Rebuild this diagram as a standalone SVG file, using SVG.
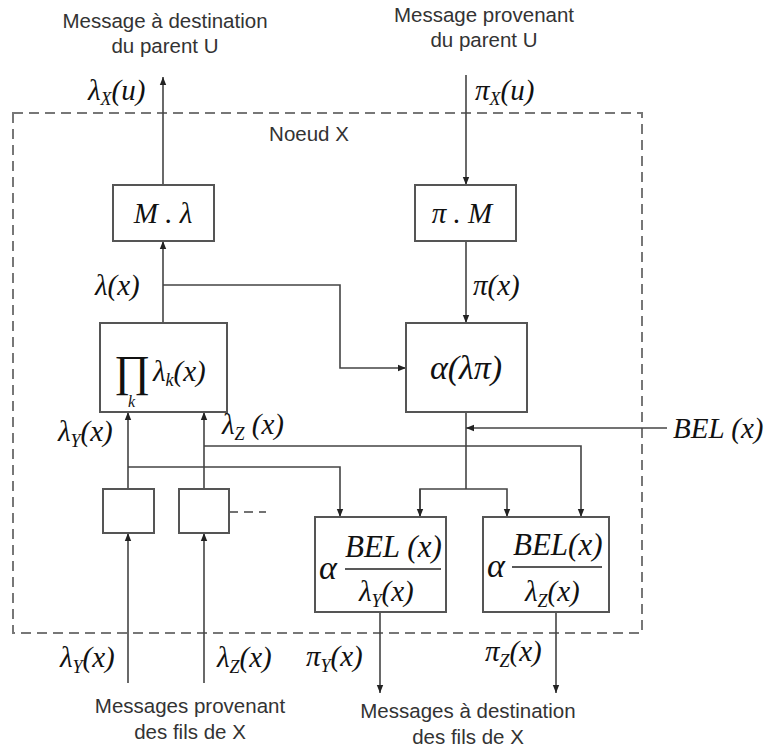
<svg xmlns="http://www.w3.org/2000/svg" width="764" height="751" viewBox="0 0 764 751">
<defs>
<style>
.lbl{font-family:"Liberation Sans",Arial,sans-serif;font-size:20.5px;fill:#333;text-anchor:middle}
.m{font-family:"Liberation Serif","Times New Roman",serif;font-style:italic;font-size:29px;fill:#111}
.ms{font-size:18px}
.big{font-size:34px}
.num{font-size:31px}
.box{fill:#fff;stroke:#555;stroke-width:2}
.ln{fill:none;stroke:#444;stroke-width:1.6}
.dash{fill:none;stroke:#777;stroke-width:2;stroke-dasharray:10 6}
</style>
<marker id="ah" viewBox="0 0 10 10" refX="10" refY="5" markerWidth="8" markerHeight="8" markerUnits="userSpaceOnUse" orient="auto"><path d="M0,1 L10,5 L0,9 Z" fill="#222"/></marker>
</defs>
<rect id="noeud" class="dash" x="13" y="113" width="629" height="520"/>
<text class="lbl" x="309" y="141">Noeud X</text>
<g id="labels">
<text class="lbl" x="165" y="28">Message à destination</text>
<text class="lbl" x="165" y="53">du parent U</text>
<text class="lbl" x="484" y="22">Message provenant</text>
<text class="lbl" x="484" y="47">du parent U</text>
<text class="lbl" x="190" y="713">Messages provenant</text>
<text class="lbl" x="190" y="739">des fils de X</text>
<text class="lbl" x="468" y="718">Messages à destination</text>
<text class="lbl" x="468" y="744">des fils de X</text>
</g>
<g id="connectors">
<line class="ln" x1="163" y1="185" x2="163" y2="77" marker-end="url(#ah)"/>
<line class="ln" x1="466" y1="75" x2="466" y2="185" marker-end="url(#ah)"/>
<line class="ln" x1="466" y1="241" x2="466" y2="323" marker-end="url(#ah)"/>
<line class="ln" x1="163" y1="323" x2="163" y2="241" marker-end="url(#ah)"/>
<polyline class="ln" points="163,285 340,285 340,368 406,368" marker-end="url(#ah)"/>
<line class="ln" x1="128" y1="489" x2="128" y2="412" marker-end="url(#ah)"/>
<line class="ln" x1="204" y1="489" x2="204" y2="412" marker-end="url(#ah)"/>
<polyline class="ln" points="204,446 581,446 581,517" marker-end="url(#ah)"/>
<polyline class="ln" points="128,467 340,467 340,517" marker-end="url(#ah)"/>
<line class="ln" x1="466" y1="412" x2="466" y2="489"/>
<polyline class="ln" points="420,517 420,489 507,489 507,517" marker-end="url(#ah)"/>
<line class="ln" x1="420" y1="489" x2="420" y2="517" marker-end="url(#ah)"/>
<line class="ln" x1="667" y1="428" x2="466" y2="428" marker-end="url(#ah)"/>
<line class="ln" x1="128" y1="683" x2="128" y2="533" marker-end="url(#ah)"/>
<line class="ln" x1="204" y1="683" x2="204" y2="533" marker-end="url(#ah)"/>
<line class="ln" x1="380" y1="612" x2="380" y2="693" marker-end="url(#ah)"/>
<line class="ln" x1="556" y1="612" x2="556" y2="693" marker-end="url(#ah)"/>
<line class="ln" x1="229" y1="512" x2="266" y2="512" stroke-dasharray="9 6" stroke="#666"/>
</g>
<g id="edge-labels">
<text class="m" x="88" y="100">λ<tspan class="ms" dy="5">X</tspan><tspan dy="-5">(u)</tspan></text>
<text class="m" x="475" y="100">π<tspan class="ms" dy="5">X</tspan><tspan dy="-5">(u)</tspan></text>
<text class="m" x="95" y="295">λ(x)</text>
<text class="m" x="473" y="295">π(x)</text>
<text class="m" x="58" y="441">λ<tspan class="ms" dy="6">Y</tspan><tspan dy="-6">(x)</tspan></text>
<text class="m" x="222" y="434">λ<tspan class="ms" dy="6">Z</tspan><tspan dy="-6"> (x)</tspan></text>
<text class="m" x="673" y="438">BEL (x)</text>
<text class="m" x="60" y="667">λ<tspan class="ms" dy="6">Y</tspan><tspan dy="-6">(x)</tspan></text>
<text class="m" x="217" y="667">λ<tspan class="ms" dy="6">Z</tspan><tspan dy="-6">(x)</tspan></text>
<text class="m" x="306" y="666">π<tspan class="ms" dy="6">Y</tspan><tspan dy="-6">(x)</tspan></text>
<text class="m" x="485" y="661">π<tspan class="ms" dy="6">Z</tspan><tspan dy="-6">(x)</tspan></text>
</g>
<g id="M-lambda">
<rect class="box" x="113" y="185" width="101" height="56"/>
<text class="m" x="163" y="223" text-anchor="middle">M . λ</text>
</g>
<g id="pi-M">
<rect class="box" x="415" y="185" width="101" height="56"/>
<text class="m" x="462" y="223" text-anchor="middle">π . M</text>
</g>
<g id="product">
<rect class="box" x="100" y="323" width="127" height="89"/>
<text x="114" y="386" style="font-family:'Liberation Serif',serif;font-size:44px;fill:#111">∏</text>
<text class="m" x="128" y="407" style="font-size:16px">k</text>
<text class="m" x="153" y="381">λ<tspan class="ms" dy="5">k</tspan><tspan dy="-5">(x)</tspan></text>
</g>
<g id="alpha-lambda-pi">
<rect class="box" x="406" y="323" width="121" height="89"/>
<text class="m big" x="466" y="379" text-anchor="middle">α(λπ)</text>
</g>
<g id="child-Y">
<rect class="box" x="103" y="489" width="51" height="44"/>
</g>
<g id="child-Z">
<rect class="box" x="179" y="489" width="50" height="44"/>
</g>
<g id="bel-Y">
<rect class="box" x="315" y="517" width="131" height="95"/>
<text class="m big" x="319" y="579">α</text>
<text class="m num" x="345" y="557">BEL (x)</text>
<line x1="345" y1="569" x2="441" y2="569" stroke="#222" stroke-width="1.5"/>
<text class="m" x="359" y="601">λ<tspan class="ms" dy="6">Y</tspan><tspan dy="-6">(x)</tspan></text>
</g>
<g id="bel-Z">
<rect class="box" x="483" y="517" width="126" height="95"/>
<text class="m big" x="487" y="577">α</text>
<text class="m num" x="513" y="555">BEL(x)</text>
<line x1="512" y1="567" x2="602" y2="567" stroke="#222" stroke-width="1.5"/>
<text class="m" x="525" y="601">λ<tspan class="ms" dy="6">Z</tspan><tspan dy="-6">(x)</tspan></text>
</g>
</svg>
